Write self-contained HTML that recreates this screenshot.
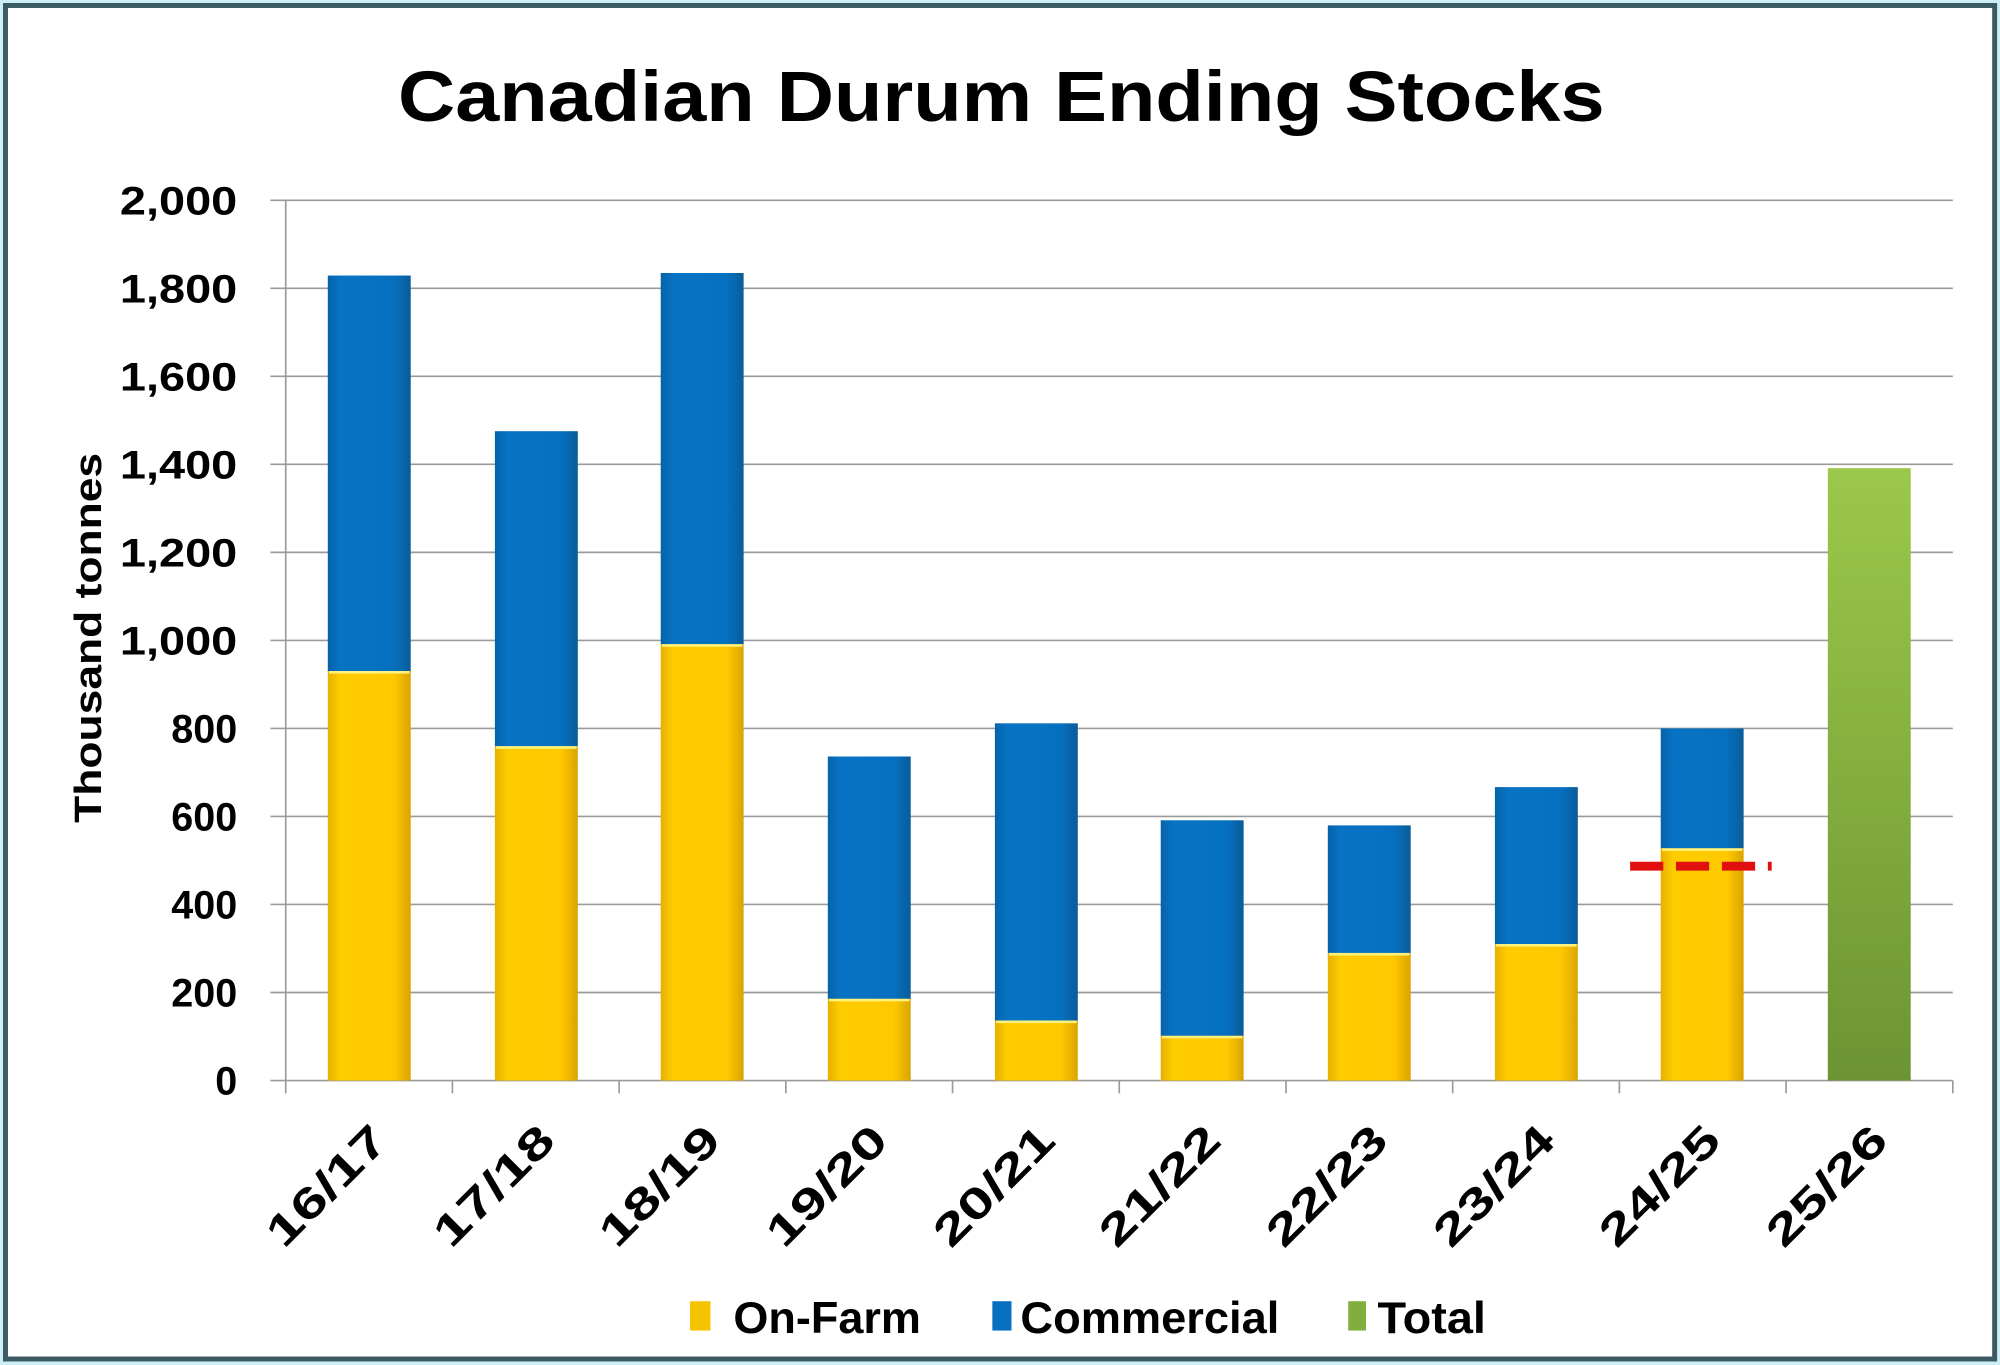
<!DOCTYPE html>
<html><head><meta charset="utf-8"><style>
html,body{margin:0;padding:0;background:#cdeff5;}
svg{display:block;}
text{font-family:"Liberation Sans",sans-serif;font-weight:bold;fill:#000;}
</style></head><body>
<svg width="2000" height="1365" viewBox="0 0 1568 1070" preserveAspectRatio="none" xmlns="http://www.w3.org/2000/svg">
<defs>
<linearGradient id="gy" x1="0" x2="1" y1="0" y2="0"><stop offset="0" stop-color="#E8B000"/><stop offset="0.15" stop-color="#FFCC00"/><stop offset="0.8" stop-color="#FFC800"/><stop offset="1" stop-color="#D9A400"/></linearGradient>
<linearGradient id="gb" x1="0" x2="1" y1="0" y2="0"><stop offset="0" stop-color="#0563A8"/><stop offset="0.15" stop-color="#0872C4"/><stop offset="0.8" stop-color="#0670C0"/><stop offset="1" stop-color="#0A5C98"/></linearGradient>
<linearGradient id="gg" x1="0" x2="0" y1="0" y2="1"><stop offset="0" stop-color="#9BC84A"/><stop offset="1" stop-color="#6C9433"/></linearGradient>
</defs>
<rect x="4.3" y="4.3" width="1559.5" height="1061" fill="#fff" stroke="#3c5a64" stroke-width="3.9"/>
<text x="785" y="95" font-size="56" text-anchor="middle" textLength="946" lengthAdjust="spacingAndGlyphs">Canadian Durum Ending Stocks</text>
<g stroke="#9a9a9a" stroke-width="1.3">
<line x1="212" x2="1531" y1="157" y2="157"/><line x1="212" x2="1531" y1="226" y2="226"/><line x1="212" x2="1531" y1="295" y2="295"/><line x1="212" x2="1531" y1="364" y2="364"/><line x1="212" x2="1531" y1="433" y2="433"/><line x1="212" x2="1531" y1="502" y2="502"/><line x1="212" x2="1531" y1="571" y2="571"/><line x1="212" x2="1531" y1="640" y2="640"/><line x1="212" x2="1531" y1="709" y2="709"/><line x1="212" x2="1531" y1="778" y2="778"/><line x1="212" x2="1531" y1="847" y2="847"/>
<line x1="224" x2="224" y1="157" y2="857"/>
<line x1="354.7" x2="354.7" y1="847" y2="857"/><line x1="485.4" x2="485.4" y1="847" y2="857"/><line x1="616.1" x2="616.1" y1="847" y2="857"/><line x1="746.8" x2="746.8" y1="847" y2="857"/><line x1="877.5" x2="877.5" y1="847" y2="857"/><line x1="1008.2" x2="1008.2" y1="847" y2="857"/><line x1="1138.9" x2="1138.9" y1="847" y2="857"/><line x1="1269.6" x2="1269.6" y1="847" y2="857"/><line x1="1400.3" x2="1400.3" y1="847" y2="857"/><line x1="1531" x2="1531" y1="847" y2="857"/>
</g>
<g font-size="31" text-anchor="end">
<text x="186" y="168" textLength="92" lengthAdjust="spacingAndGlyphs">2,000</text><text x="186" y="237" textLength="92" lengthAdjust="spacingAndGlyphs">1,800</text><text x="186" y="306" textLength="92" lengthAdjust="spacingAndGlyphs">1,600</text><text x="186" y="375" textLength="92" lengthAdjust="spacingAndGlyphs">1,400</text><text x="186" y="444" textLength="92" lengthAdjust="spacingAndGlyphs">1,200</text><text x="186" y="513" textLength="92" lengthAdjust="spacingAndGlyphs">1,000</text><text x="186" y="582">800</text><text x="186" y="651">600</text><text x="186" y="720">400</text><text x="186" y="789">200</text><text x="186" y="858">0</text>
</g>
<text transform="translate(79,500) rotate(-90)" font-size="30" text-anchor="middle" textLength="290" lengthAdjust="spacingAndGlyphs">Thousand tonnes</text>
<g>
<rect x="257" y="216" width="65" height="311" fill="url(#gb)"/><rect x="257" y="526" width="65" height="321" fill="url(#gy)"/>
<rect x="388" y="338" width="65" height="247" fill="url(#gb)"/><rect x="388" y="585" width="65" height="262" fill="url(#gy)"/>
<rect x="518" y="214" width="65" height="291" fill="url(#gb)"/><rect x="518" y="505" width="65" height="342" fill="url(#gy)"/>
<rect x="649" y="593" width="65" height="190" fill="url(#gb)"/><rect x="649" y="783" width="65" height="64" fill="url(#gy)"/>
<rect x="780" y="567" width="65" height="233" fill="url(#gb)"/><rect x="780" y="800" width="65" height="47" fill="url(#gy)"/>
<rect x="910" y="643" width="65" height="169" fill="url(#gb)"/><rect x="910" y="812" width="65" height="35" fill="url(#gy)"/>
<rect x="1041" y="647" width="65" height="100" fill="url(#gb)"/><rect x="1041" y="747" width="65" height="100" fill="url(#gy)"/>
<rect x="1172" y="617" width="65" height="123" fill="url(#gb)"/><rect x="1172" y="740" width="65" height="107" fill="url(#gy)"/>
<rect x="1302" y="571" width="65" height="94" fill="url(#gb)"/><rect x="1302" y="665" width="65" height="182" fill="url(#gy)"/>
<rect x="1433" y="367" width="65" height="480" fill="url(#gg)"/>
</g>
<g stroke="#FFF27A" stroke-width="2">
<line x1="258" x2="321" y1="527" y2="527"/><line x1="389" x2="452" y1="586" y2="586"/><line x1="519" x2="582" y1="506" y2="506"/><line x1="650" x2="713" y1="784" y2="784"/><line x1="781" x2="844" y1="801" y2="801"/><line x1="911" x2="974" y1="813" y2="813"/><line x1="1042" x2="1105" y1="748" y2="748"/><line x1="1173" x2="1236" y1="741" y2="741"/><line x1="1303" x2="1366" y1="666" y2="666"/>
</g>
<line x1="1278" x2="1398" y1="679" y2="679" stroke="#E0100F" stroke-width="7" stroke-dasharray="26,10,26,10,26,10,3,10"/>
<g font-size="34" text-anchor="end">
<text transform="translate(306,896) rotate(-45)" textLength="118" lengthAdjust="spacingAndGlyphs">16/17</text>
<text transform="translate(437,896) rotate(-45)" textLength="118" lengthAdjust="spacingAndGlyphs">17/18</text>
<text transform="translate(567,896) rotate(-45)" textLength="118" lengthAdjust="spacingAndGlyphs">18/19</text>
<text transform="translate(698,896) rotate(-45)" textLength="118" lengthAdjust="spacingAndGlyphs">19/20</text>
<text transform="translate(829,896) rotate(-45)" textLength="118" lengthAdjust="spacingAndGlyphs">20/21</text>
<text transform="translate(959,896) rotate(-45)" textLength="118" lengthAdjust="spacingAndGlyphs">21/22</text>
<text transform="translate(1090,896) rotate(-45)" textLength="118" lengthAdjust="spacingAndGlyphs">22/23</text>
<text transform="translate(1221,896) rotate(-45)" textLength="118" lengthAdjust="spacingAndGlyphs">23/24</text>
<text transform="translate(1351,896) rotate(-45)" textLength="118" lengthAdjust="spacingAndGlyphs">24/25</text>
<text transform="translate(1482,896) rotate(-45)" textLength="118" lengthAdjust="spacingAndGlyphs">25/26</text>
</g>
<rect x="541" y="1020" width="16" height="23" fill="#F5C400"/>
<rect x="778" y="1020" width="15" height="23" fill="#0870C0"/>
<rect x="1057" y="1020" width="14" height="23" fill="#82AE3E"/>
<g font-size="35">
<text x="575" y="1045" textLength="147" lengthAdjust="spacingAndGlyphs">On-Farm</text>
<text x="800" y="1045" textLength="203" lengthAdjust="spacingAndGlyphs">Commercial</text>
<text x="1080" y="1045" textLength="85" lengthAdjust="spacingAndGlyphs">Total</text>
</g>
</svg>
</body></html>
